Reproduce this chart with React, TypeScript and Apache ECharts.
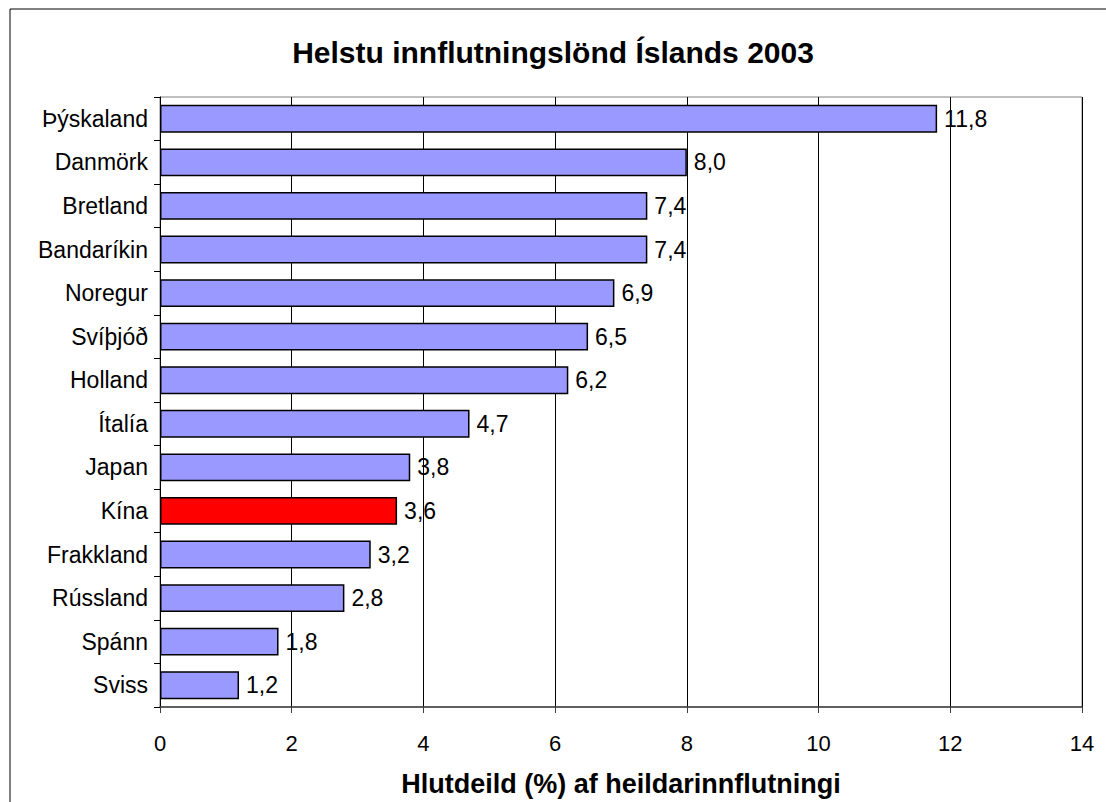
import React, { useEffect, useRef } from "react";
import * as echarts from "echarts";

const title = "Helstu innflutningslönd Íslands 2003";
const xAxisName = "Hlutdeild (%) af heildarinnflutningi";
const countries = [
  "Þýskaland", "Danmörk", "Bretland", "Bandaríkin", "Noregur", "Svíþjóð", "Holland",
  "Ítalía", "Japan", "Kína", "Frakkland", "Rússland", "Spánn", "Sviss",
];
const shares = [11.8, 8.0, 7.4, 7.4, 6.9, 6.5, 6.2, 4.7, 3.8, 3.6, 3.2, 2.8, 1.8, 1.2];
const highlighted = "Kína";

const FONT = "'Liberation Sans', Arial, sans-serif";

export default function App() {
  const ref = useRef<HTMLDivElement>(null);
  useEffect(() => {
    document.body.style.margin = "0";
    const chart = echarts.init(ref.current!, undefined, { renderer: "svg" });
    const cats = countries.slice().reverse();
    const vals = shares.slice().reverse();
    chart.setOption({
      animation: false,
      backgroundColor: "#fff",
      title: {
        text: title,
        left: "center",
        top: 32,
        textStyle: { fontFamily: FONT, fontSize: 30, fontWeight: "bold", color: "#000" },
      },
      graphic: [
        {
          type: "rect",
          shape: { x: 10, y: 9, width: 1200, height: 900 },
          style: { fill: "none", stroke: "#000", lineWidth: 1 },
          silent: true,
        },
      ],
      grid: {
        left: 160, right: 24, top: 97, bottom: 94,
        show: true, borderColor: "#808080", borderWidth: 1,
      },
      xAxis: {
        type: "value",
        min: 0, max: 14, interval: 2,
        name: xAxisName,
        nameLocation: "middle",
        nameGap: 63,
        nameTextStyle: { fontFamily: FONT, fontSize: 27, fontWeight: "bold", color: "#000", verticalAlign: "top" },
        axisLine: { show: true, lineStyle: { color: "#404040", width: 1.5 } },
        axisTick: { show: true, length: 6, lineStyle: { color: "#404040" } },
        axisLabel: { fontFamily: FONT, fontSize: 22, color: "#000", margin: 25 },
        splitLine: { show: true, lineStyle: { color: "#000", width: 1 } },
      },
      yAxis: {
        type: "category",
        data: cats,
        axisLine: { show: true, lineStyle: { color: "#000", width: 1 } },
        axisTick: { show: true, length: 6, lineStyle: { color: "#000" } },
        axisLabel: { fontFamily: FONT, fontSize: 23, color: "#000", margin: 12 },
        splitLine: { show: false },
      },
      series: [
        {
          type: "bar",
          data: vals.map((v, i) => ({
            value: v,
            itemStyle: { color: cats[i] === highlighted ? "#FF0000" : "#9999FF" },
          })),
          barWidth: "64%",
          itemStyle: { borderColor: "#000", borderWidth: 1.5 },
          label: {
            show: true,
            position: "right",
            distance: 7,
            fontFamily: FONT,
            fontSize: 23,
            color: "#000",
            formatter: (p: any) => Number(p.value).toFixed(1).replace(".", ","),
          },
        },
      ],
    });
    return () => chart.dispose();
  }, []);
  return <div ref={ref} style={{ width: 1106, height: 802 }} />;
}
